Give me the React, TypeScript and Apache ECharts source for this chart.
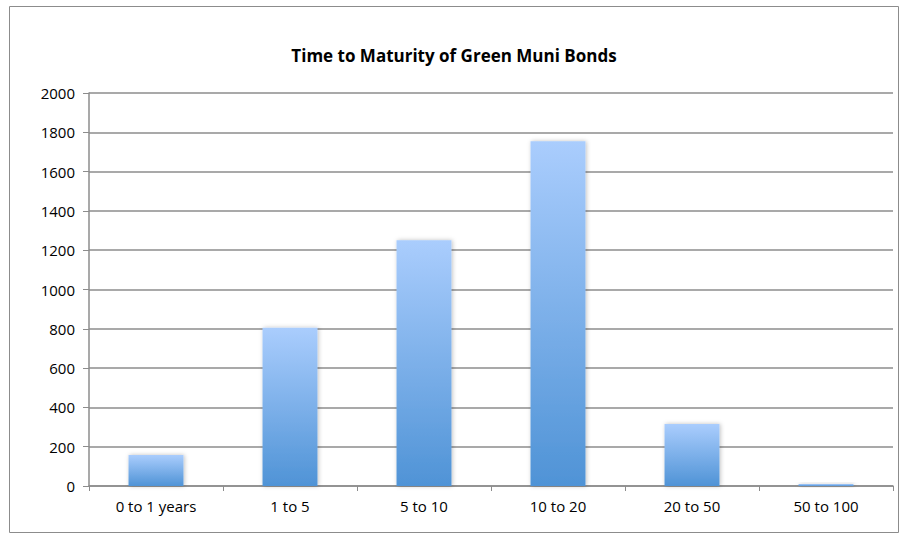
import { useEffect, useRef } from 'react';
import * as echarts from 'echarts';

const categories = ['0 to 1 years', '1 to 5', '5 to 10', '10 to 20', '20 to 50', '50 to 100'];
const counts = [158, 805, 1251, 1754, 315, 10];

const App = () => {
  const chartRef = useRef<HTMLDivElement>(null);

  useEffect(() => {
    if (!chartRef.current) return;
    const myChart = echarts.init(chartRef.current, null, { renderer: 'svg' });

    const option = {
      animation: false,
      textStyle: { fontFamily: 'Open Sans, Liberation Sans, sans-serif' },
      title: {
        text: 'Time to Maturity of Green Muni Bonds',
        left: 'center',
        top: 42,
        textStyle: { fontSize: 17, fontWeight: 'bold', color: '#000' }
      },
      graphic: [
        {
          type: 'rect',
          shape: { x: 9.5, y: 6.5, width: 889, height: 526 },
          style: { fill: 'none', stroke: '#8c8c8c', lineWidth: 1 }
        }
      ],
      grid: { left: 89, right: 15, top: 93, bottom: 53 },
      xAxis: {
        type: 'category',
        data: categories,
        axisLine: { lineStyle: { color: '#8c8c8c', width: 1.5 } },
        axisTick: { show: true, length: 5, lineStyle: { color: '#8c8c8c' } },
        axisLabel: { color: '#000', fontSize: 15, margin: 12 }
      },
      yAxis: {
        type: 'value',
        min: 0,
        max: 2000,
        interval: 200,
        axisLine: { show: true, lineStyle: { color: '#8c8c8c', width: 1.5 } },
        axisTick: { show: true, length: 6, lineStyle: { color: '#8c8c8c' } },
        axisLabel: { color: '#000', fontSize: 15, margin: 14, formatter: (v: number) => String(v) },
        splitLine: { lineStyle: { color: '#8c8c8c', width: 1.5 } }
      },
      series: [
        {
          type: 'bar',
          data: counts,
          barWidth: '41%',
          itemStyle: {
            color: new echarts.graphic.LinearGradient(0, 0, 0, 1, [
              { offset: 0, color: '#aacdfd' },
              { offset: 1, color: '#4f93d6' }
            ]),
            shadowColor: 'rgba(0,0,0,0.25)',
            shadowBlur: 4,
            shadowOffsetX: 1
          }
        }
      ]
    };

    myChart.setOption(option);
    return () => {
      myChart.dispose();
    };
  }, []);

  return (
    <div
      ref={chartRef}
      style={{ position: 'absolute', left: 0, top: 0, width: '908px', height: '539px' }}
    />
  );
};

export default App;
